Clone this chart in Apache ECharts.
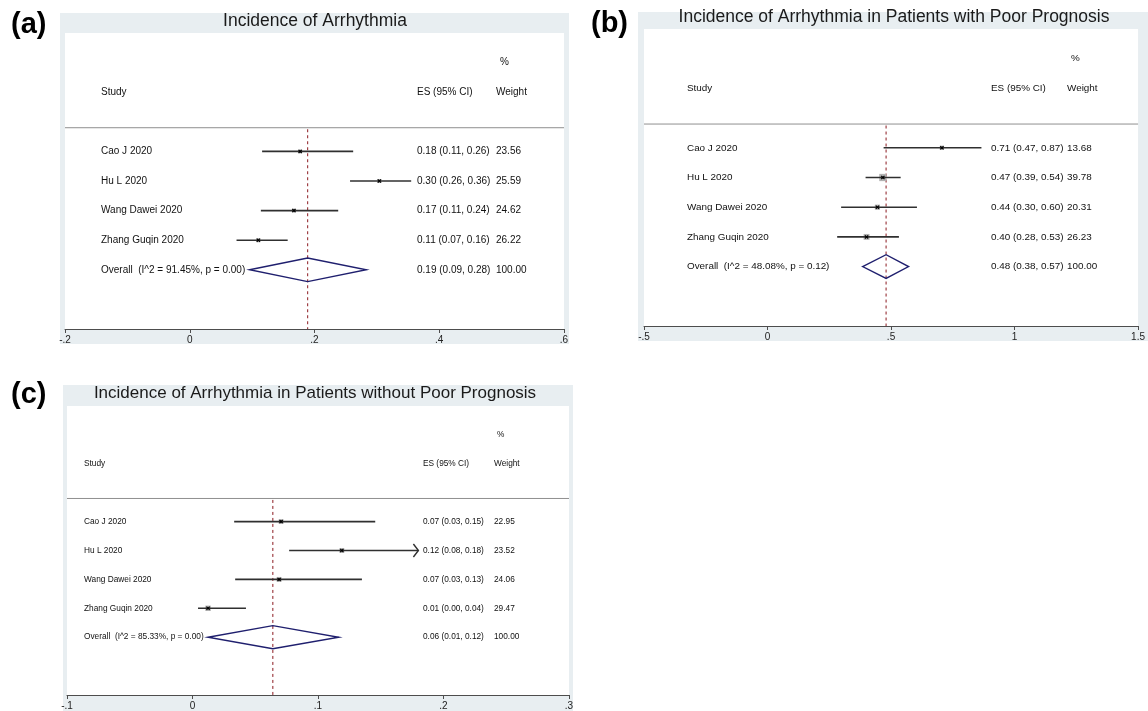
<!DOCTYPE html>
<html>
<head>
<meta charset="utf-8">
<script src="https://cdn.jsdelivr.net/npm/echarts@6/dist/echarts.min.js"></script>
<style>html,body{margin:0;padding:0;background:#fff}#c{width:1148px;height:711px}</style>
</head>
<body>
<div id="c"></div>
<script>
// ---------- data ----------
const studies = ['Cao J 2020', 'Hu L 2020', 'Wang Dawei 2020', 'Zhang Guqin 2020'];

// (a) Incidence of Arrhythmia
const aTitle = 'Incidence of Arrhythmia';
const aEst = [0.177, 0.304, 0.167, 0.110];
const aLo = [0.116, 0.257, 0.114, 0.075];
const aHi = [0.262, 0.355, 0.238, 0.157];
const aWeight = [23.56, 25.59, 24.62, 26.22];
const aArrow = [0, 0, 0, 0];
const aEsText = ['0.18 (0.11, 0.26)', '0.30 (0.26, 0.36)', '0.17 (0.11, 0.24)', '0.11 (0.07, 0.16)'];
const aOverall = [0.189, 0.096, 0.283];
const aOverallText = '0.19 (0.09, 0.28)';
const aHet = 'Overall  (I^2 = 91.45%, p = 0.00)';
const aTicks = ['-.2', '0', '.2', '.4', '.6'];

// (b) with poor prognosis
const bTitle = 'Incidence of Arrhythmia in Patients with Poor Prognosis';
const bEst = [0.706, 0.467, 0.445, 0.401];
const bLo = [0.470, 0.397, 0.298, 0.282];
const bHi = [0.866, 0.539, 0.605, 0.532];
const bWeight = [13.68, 39.78, 20.31, 26.23];
const bArrow = [0, 0, 0, 0];
const bEsText = ['0.71 (0.47, 0.87)', '0.47 (0.39, 0.54)', '0.44 (0.30, 0.60)', '0.40 (0.28, 0.53)'];
const bOverall = [0.480, 0.385, 0.571];
const bOverallText = '0.48 (0.38, 0.57)';
const bHet = 'Overall  (I^2 = 48.08%, p = 0.12)';
const bTicks = ['-.5', '0', '.5', '1', '1.5'];

// (c) without poor prognosis
const cTitle = 'Incidence of Arrhythmia in Patients without Poor Prognosis';
const cEst = [0.0706, 0.119, 0.069, 0.0124];
const cLo = [0.0332, 0.077, 0.034, 0.0044];
const cHi = [0.1456, 0.180, 0.135, 0.0426];
const cWeight = [22.95, 23.52, 24.06, 29.47];
const cArrow = [0, 1, 0, 0];
const cEsText = ['0.07 (0.03, 0.15)', '0.12 (0.08, 0.18)', '0.07 (0.03, 0.13)', '0.01 (0.00, 0.04)'];
const cOverall = [0.064, 0.0124, 0.1165];
const cOverallText = '0.06 (0.01, 0.12)';
const cHet = 'Overall  (I^2 = 85.33%, p = 0.00)';
const cTicks = ['-.1', '0', '.1', '.2', '.3'];

// ---------- layout ----------
const FONT = '"Liberation Sans", Arial, Helvetica, sans-serif';
const panels = [
  { letter: '(a)', title: aTitle, est: aEst, lo: aLo, hi: aHi, w: aWeight, arrow: aArrow, esText: aEsText,
    overall: aOverall, overallText: aOverallText, het: aHet, ticks: aTicks, min: -0.2, max: 0.6, step: 0.2,
    grid: { left: 65, top: 33, width: 499, height: 296 }, frame: [60, 13, 509, 331],
    titleX: 315, titleY: 20.7, titleSize: 17.5, letterX: 11, letterY: 25,
    studyX: 36, esX: 352, wX: 431, pctX: 435, font: 10, boxK: 0.8 },
  { letter: '(b)', title: bTitle, est: bEst, lo: bLo, hi: bHi, w: bWeight, arrow: bArrow, esText: bEsText,
    overall: bOverall, overallText: bOverallText, het: bHet, ticks: bTicks, min: -0.5, max: 1.5, step: 0.5,
    grid: { left: 644, top: 29, width: 500, height: 297 }, frame: [638, 12, 512, 329],
    titleX: 894, titleY: 17, titleSize: 17.5, letterX: 591, letterY: 24,
    studyX: 43, esX: 347, wX: 423, pctX: 427, font: 9.9, boxK: 1.15 },
  { letter: '(c)', title: cTitle, est: cEst, lo: cLo, hi: cHi, w: cWeight, arrow: cArrow, esText: cEsText,
    overall: cOverall, overallText: cOverallText, het: cHet, ticks: cTicks, min: -0.1, max: 0.3, step: 0.1,
    grid: { left: 67, top: 406, width: 502, height: 291 }, frame: [63, 385, 510, 330],
    titleX: 315, titleY: 393, titleSize: 17, letterX: 11, letterY: 395,
    studyX: 17, esX: 356, wX: 427, pctX: 430, font: 8.3, boxK: 1.0 }
];

const chart = echarts.init(document.getElementById('c'), null, { renderer: 'canvas' });

const graphic = [];
const grids = [], xAxes = [], yAxes = [], series = [];

panels.forEach((p, pi) => {
  graphic.push({ type: 'rect', z: -10, shape: { x: p.frame[0], y: p.frame[1], width: p.frame[2], height: p.frame[3] },
    style: { fill: '#e8eef1' } });
  graphic.push({ type: 'text', z: 100, x: p.titleX, y: p.titleY,
    style: { text: p.title, fill: '#1a1a1a', font: p.titleSize + 'px ' + FONT, textAlign: 'center', textVerticalAlign: 'middle' } });
  graphic.push({ type: 'text', z: 100, x: p.letterX, y: p.letterY,
    style: { text: p.letter, fill: '#000', font: 'bold 29px ' + FONT, textAlign: 'left', textVerticalAlign: 'middle' } });

  grids.push(Object.assign({ show: true, backgroundColor: '#ffffff', borderWidth: 0, containLabel: false }, p.grid));
  xAxes.push({
    type: 'value', gridIndex: pi, min: p.min, max: p.max, interval: p.step, position: 'bottom',
    axisLine: { show: true, onZero: false, lineStyle: { color: '#4d4d4d', width: 1 } },
    axisTick: { show: true, length: 4, inside: false, lineStyle: { color: '#4d4d4d', width: 1 } },
    axisLabel: { show: true, margin: 6, fontSize: 10, fontFamily: FONT, color: '#222',
      showMinLabel: true, showMaxLabel: true,
      formatter: (v, i) => p.ticks[i] !== undefined ? p.ticks[i] : '' },
    splitLine: { show: false }
  });
  yAxes.push({ type: 'value', gridIndex: pi, min: -4, max: 6, inverse: true, show: false });

  // separator line under header
  series.push({ type: 'line', xAxisIndex: pi, yAxisIndex: pi, symbol: 'none', silent: true,
    data: [[p.min, -0.8], [p.max, -0.8]], lineStyle: { color: '#8f8f8f', width: 1 }, z: 2 });
  // overall effect dashed line
  series.push({ type: 'line', xAxisIndex: pi, yAxisIndex: pi, symbol: 'none', silent: true,
    data: [[p.overall[0], -0.75], [p.overall[0], 6]], lineStyle: { color: '#962f35', width: 1.1, type: [3, 3] }, z: 3 });

  // studies: CI lines, boxes, markers
  const studyData = studies.map((s, i) => [i, p.est[i], p.lo[i], p.hi[i], p.w[i], p.arrow[i]]);
  series.push({
    type: 'custom', xAxisIndex: pi, yAxisIndex: pi, silent: true, z: 5,
    encode: { x: [1, 2, 3], y: 0 },
    data: studyData,
    renderItem: (params, api) => {
      const row = api.value(0), est = api.value(1), lo = api.value(2), hi = api.value(3), w = api.value(4), arr = api.value(5);
      const pe = api.coord([est, row]), pl = api.coord([lo, row]), ph = api.coord([hi, row]);
      const s = p.boxK * Math.sqrt(w);
      const ch = [
        { type: 'rect', shape: { x: pe[0] - s / 2, y: pe[1] - s / 2, width: s, height: s }, style: { fill: '#b2b2b2' } },
        { type: 'line', shape: { x1: pl[0], y1: pl[1], x2: ph[0], y2: ph[1] }, style: { stroke: '#303030', lineWidth: 1.6 } },
        { type: 'line', shape: { x1: pe[0] - 1.6, y1: pe[1] - 1.6, x2: pe[0] + 1.6, y2: pe[1] + 1.6 }, style: { stroke: '#000', lineWidth: 1.2 } },
        { type: 'line', shape: { x1: pe[0] - 1.6, y1: pe[1] + 1.6, x2: pe[0] + 1.6, y2: pe[1] - 1.6 }, style: { stroke: '#000', lineWidth: 1.2 } }
      ];
      if (arr) {
        ch.push({ type: 'polyline', shape: { points: [[ph[0] - 5, ph[1] - 6.5], [ph[0], ph[1]], [ph[0] - 5, ph[1] + 6.5]] },
          style: { stroke: '#303030', lineWidth: 1.4, fill: 'none' } });
      }
      return { type: 'group', children: ch };
    }
  });

  // overall diamond
  series.push({
    type: 'custom', xAxisIndex: pi, yAxisIndex: pi, silent: true, z: 6,
    encode: { x: [1, 2, 3], y: 0 },
    data: [[4, p.overall[0], p.overall[1], p.overall[2]]],
    renderItem: (params, api) => {
      const row = api.value(0), est = api.value(1), lo = api.value(2), hi = api.value(3);
      const pts = [api.coord([lo, row]), api.coord([est, row - 0.4]), api.coord([hi, row]), api.coord([est, row + 0.4])];
      return { type: 'polygon', shape: { points: pts }, style: { stroke: '#1f1f6e', lineWidth: 1.4, fill: 'none' } };
    }
  });

  // text columns
  const rows = [
    { r: -3, cols: [['', p.studyX], ['', p.esX], ['%', p.pctX]] },
    { r: -2, cols: [['Study', p.studyX], ['ES (95% CI)', p.esX], ['Weight', p.wX]] }
  ];
  studies.forEach((s, i) => rows.push({ r: i, cols: [[s, p.studyX], [p.esText[i], p.esX], [p.w[i].toFixed(2), p.wX]] }));
  rows.push({ r: 4, cols: [[p.het, p.studyX], [p.overallText, p.esX], ['100.00', p.wX]] });
  series.push({
    type: 'custom', xAxisIndex: pi, yAxisIndex: pi, silent: true, z: 10,
    encode: { y: 0 },
    data: rows.map(o => [o.r]),
    renderItem: (params, api) => {
      const o = rows[params.dataIndex];
      const y = api.coord([p.min, o.r])[1];
      const x0 = params.coordSys.x;
      return {
        type: 'group',
        children: o.cols.filter(c => c[0] !== '').map(c => ({
          type: 'text', x: x0 + c[1], y: y,
          style: { text: c[0], fill: '#111', font: p.font + 'px ' + FONT, textAlign: 'left', textVerticalAlign: 'middle' }
        }))
      };
    }
  });
});

chart.setOption({
  animation: false,
  backgroundColor: '#ffffff',
  graphic: graphic,
  grid: grids,
  xAxis: xAxes,
  yAxis: yAxes,
  series: series
});
</script>
</body>
</html>
